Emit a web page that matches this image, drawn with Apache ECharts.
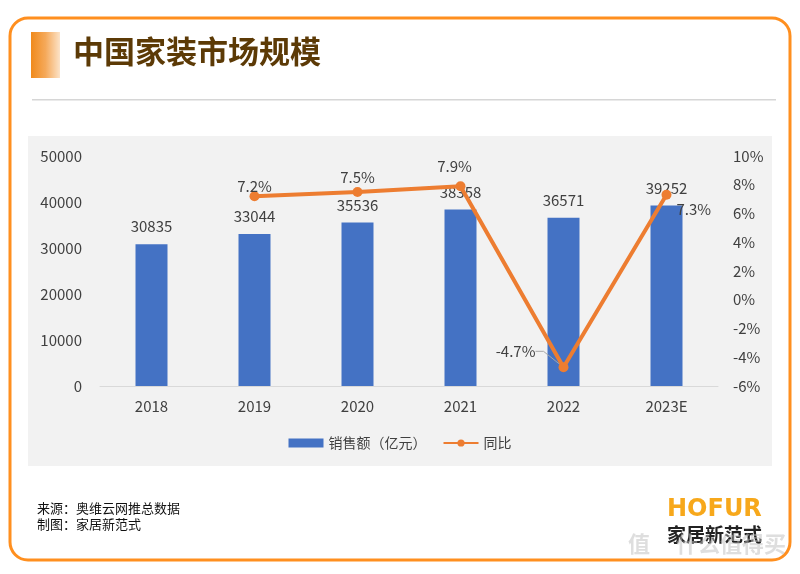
<!DOCTYPE html>
<html><head><meta charset="utf-8">
<script src="https://cdn.jsdelivr.net/npm/echarts@6/dist/echarts.min.js"></script>
<style>html,body{margin:0;padding:0;background:#fff}#c{width:800px;height:574px}</style>
</head><body><div id="c"></div>
<script>
var categories = ['2018','2019','2020','2021','2022','2023E'];
var salesValues = [30835, 33044, 35536, 38358, 36571, 39252];
var yoyValues = [null, 7.2, 7.5, 7.9, -4.7, 7.3];
var leftTicks = {min:0, max:50000, interval:10000};
var rightTicks = {min:-6, max:10, interval:2};

var FONT = '"Noto Sans CJK SC","Microsoft YaHei",sans-serif';
var chart = echarts.init(document.getElementById('c'));

var yoyLabelPos = [null, 'top', 'top', 'top', 'left', 'right'];
var yoyLabelShift = [null, [0,8], [0,3], [-6,-2], [-18,-16], [0,14]];
var yoyData = yoyValues.map(function(v,i){
  if (v === null) return '-';
  var item = {value:v, label:{position:yoyLabelPos[i]}};
  if (i === 4) item.labelLine = {show:true, length2:8, lineStyle:{color:'#A6A6A6', width:1}};
  return item;
});

chart.setOption({
  animation:false,
  textStyle:{fontFamily:FONT},
  graphic:[
    {type:'rect', shape:{x:10,y:18,width:780,height:542,r:18}, style:{fill:'#fff',stroke:'#FF8F1F',lineWidth:3}, z:-10},
    {type:'rect', shape:{x:31,y:32,width:29,height:46}, style:{fill:new echarts.graphic.LinearGradient(0,0,1,0,[{offset:0,color:'#F08A1C'},{offset:0.5,color:'#F5A95A'},{offset:1,color:'#FCE3C8'}])}, z:-5},
    {type:'text', left:73, top:36, style:{text:'中国家装市场规模', fill:'#5C3A06', font:'bold 31px '+FONT}},
    {type:'rect', shape:{x:32,y:99,width:744,height:1.5}, style:{fill:'#D6D6D6'}, z:-5},
    {type:'rect', shape:{x:28,y:136,width:744,height:330}, style:{fill:'#F2F2F2'}, z:-5},
    {type:'text', left:37, top:502, style:{text:'来源：奥维云网推总数据', fill:'#111', font:'13px '+FONT}},
    {type:'text', left:37, top:518, style:{text:'制图：家居新范式', fill:'#111', font:'13px '+FONT}},
    {type:'text', left:667, top:498, style:{text:'HOFUR', fill:'#F7A81B', font:'bold 24px "DejaVu Sans",Arial,sans-serif'}},
    {type:'text', left:667, top:525, style:{text:'家居新范式', fill:'#222', font:'bold 19px '+FONT}},
    {type:'text', left:628, top:533, style:{text:'值', fill:'rgba(190,190,190,0.5)', font:'bold 22px '+FONT}},
    {type:'text', left:676, top:533, style:{text:'什么值得买', fill:'rgba(190,190,190,0.5)', font:'bold 22px '+FONT}}
  ],
  legend:{
    top:431, left:'center', itemGap:16, itemWidth:35, itemHeight:9,
    textStyle:{fontSize:14, color:'#404040', fontFamily:FONT},
    data:[{name:'销售额（亿元）', icon:'rect'}, {name:'同比'}]
  },
  grid:{left:100, right:82, top:156, bottom:188, containLabel:false},
  xAxis:{
    type:'category', data:categories,
    axisLine:{lineStyle:{color:'#D9D9D9', width:1}},
    axisTick:{show:false},
    axisLabel:{fontSize:15, color:'#404040', margin:13}
  },
  yAxis:[
    {type:'value', min:leftTicks.min, max:leftTicks.max, interval:leftTicks.interval,
     splitLine:{show:false}, axisLine:{show:false}, axisTick:{show:false},
     axisLabel:{fontSize:15, color:'#404040', margin:18, formatter:function(v){return String(v);}}},
    {type:'value', min:rightTicks.min, max:rightTicks.max, interval:rightTicks.interval,
     splitLine:{show:false}, axisLine:{show:false}, axisTick:{show:false},
     axisLabel:{fontSize:15, color:'#404040', margin:15, formatter:'{value}%'}}
  ],
  series:[
    {name:'销售额（亿元）', type:'bar', data:salesValues, barWidth:32, yAxisIndex:0,
     itemStyle:{color:'#4472C4'},
     label:{show:true, position:'top', distance:10, fontSize:15, color:'#404040', fontFamily:FONT}},
    {name:'同比', type:'line', data:yoyData, yAxisIndex:1, z:5,
     lineStyle:{color:'#ED7D31', width:4}, itemStyle:{color:'#ED7D31'},
     symbol:'circle', symbolSize:10, connectNulls:false,
     label:{show:true, fontSize:15, color:'#404040', fontFamily:FONT, formatter:function(p){return p.value+'%';}},
     labelLine:{show:false},
     labelLayout:function(p){
       var s = yoyLabelShift[p.dataIndex];
       if (!s) return {};
       return {dx:s[0], dy:s[1]};
     }}
  ]
});
</script>
</body></html>
